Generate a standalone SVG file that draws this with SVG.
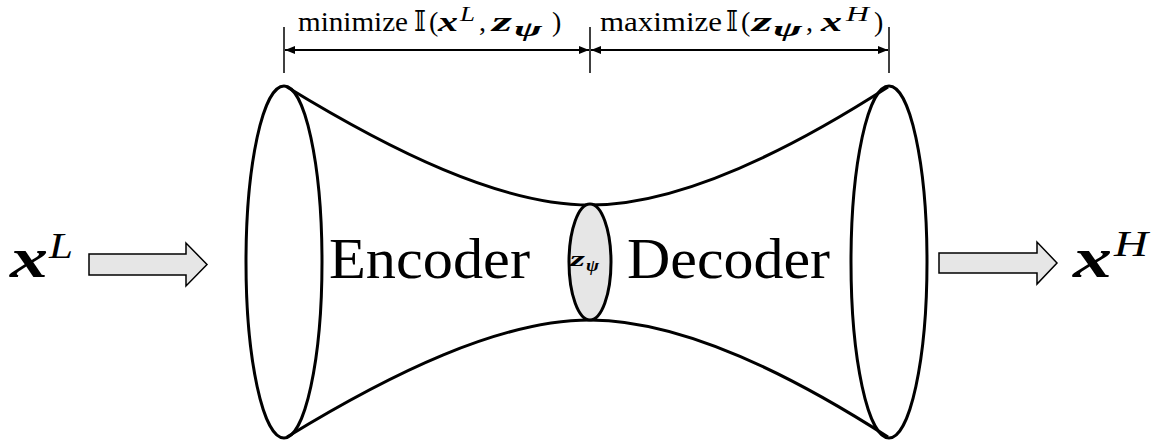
<svg xmlns="http://www.w3.org/2000/svg" width="1152" height="444" viewBox="0 0 1152 444">
<style>
.ln{fill:none;stroke:#000;stroke-width:3}
.thin{fill:none;stroke:#000;stroke-width:1.5}
.blk{fill:#e6e6e6;stroke:#000;stroke-width:1.5}
text{font-family:"Liberation Serif","Times New Roman",serif;fill:#000}
.bi{font-weight:bold;font-style:italic}
.it{font-style:italic}
.ds{font-family:"DejaVu Serif","DejaVu Sans",serif}
</style>
<defs>
<marker id="ah" viewBox="0 0 10 10" refX="10" refY="5" markerWidth="10" markerHeight="10" markerUnits="userSpaceOnUse" orient="auto-start-reverse">
<path d="M0,1 L10,5 L0,9 z" fill="#000"/>
</marker>
</defs>
<rect width="1152" height="444" fill="#fff"/>

<g id="connectors">
<line class="thin" x1="284" y1="27" x2="284" y2="73"/>
<line class="thin" x1="590" y1="27" x2="590" y2="73"/>
<line class="thin" x1="889" y1="27" x2="889" y2="73"/>
<line x1="285" y1="50" x2="589" y2="50" stroke="#000" stroke-width="2" marker-start="url(#ah)" marker-end="url(#ah)"/>
<line x1="591" y1="50" x2="888" y2="50" stroke="#000" stroke-width="2" marker-start="url(#ah)" marker-end="url(#ah)"/>
</g>

<g id="label-min" font-size="28">
<text x="298" y="31" textLength="110" lengthAdjust="spacingAndGlyphs">minimize</text>
<text class="ds" x="414" y="31" font-size="27" textLength="12" lengthAdjust="spacingAndGlyphs">𝕀</text>
<text x="429" y="31">(</text>
<text class="bi" x="438" y="31" textLength="20" lengthAdjust="spacingAndGlyphs">x</text>
<text class="it" x="460" y="21" font-size="20" textLength="15" lengthAdjust="spacingAndGlyphs">L</text>
<text x="479" y="31">,</text>
<text class="bi" x="492" y="31" textLength="20" lengthAdjust="spacingAndGlyphs">z</text>
<text class="bi" x="514" y="36" font-size="22" textLength="28" lengthAdjust="spacingAndGlyphs">ψ</text>
<text x="552" y="31">)</text>
</g>
<g id="label-max" font-size="28">
<text x="600" y="31" textLength="122" lengthAdjust="spacingAndGlyphs">maximize</text>
<text class="ds" x="726" y="31" font-size="27" textLength="12" lengthAdjust="spacingAndGlyphs">𝕀</text>
<text x="741" y="31">(</text>
<text class="bi" x="752" y="31" textLength="20" lengthAdjust="spacingAndGlyphs">z</text>
<text class="bi" x="773" y="36" font-size="22" textLength="29" lengthAdjust="spacingAndGlyphs">ψ</text>
<text x="806" y="31">,</text>
<text class="bi" x="821" y="31" textLength="21" lengthAdjust="spacingAndGlyphs">x</text>
<text class="it" x="846" y="21" font-size="20" textLength="23" lengthAdjust="spacingAndGlyphs">H</text>
<text x="874" y="31">)</text>
</g>

<g id="body">
<path class="ln" d="M287,87 C390,150 500,205 590,205 C680,205 790,150 888,87"/>
<path class="ln" d="M287,437 C390,374 500,320 590,320 C680,320 790,374 888,437"/>
</g>

<g id="encoder-ellipse">
<ellipse class="ln" cx="284" cy="262" rx="38" ry="176" fill="#fff"/>
</g>
<g id="decoder-ellipse">
<ellipse class="ln" cx="889" cy="262" rx="38" ry="176" fill="#fff"/>
</g>

<g id="z-node">
<ellipse cx="590" cy="262" rx="21" ry="58" fill="#e6e6e6" stroke="#000" stroke-width="3"/>
<text class="bi" x="570" y="266" font-size="22" textLength="15" lengthAdjust="spacingAndGlyphs">z</text>
<text class="bi" x="586" y="271" font-size="16" textLength="13" lengthAdjust="spacingAndGlyphs">ψ</text>
</g>

<g id="encoder-label">
<text x="329" y="278" font-size="57" textLength="201" lengthAdjust="spacingAndGlyphs">Encoder</text>
</g>
<g id="decoder-label">
<text x="627" y="278" font-size="57" textLength="203" lengthAdjust="spacingAndGlyphs">Decoder</text>
</g>

<g id="input">
<text class="bi" x="10" y="277" font-size="58" textLength="38" lengthAdjust="spacingAndGlyphs">x</text>
<text class="it" x="49" y="258" font-size="36" textLength="24" lengthAdjust="spacingAndGlyphs">L</text>
<path class="blk" d="M89,254 L186,254 L186,243 L207,264.5 L186,286 L186,275 L89,275 Z"/>
</g>

<g id="output">
<path class="blk" d="M939,253 L1037,253 L1037,242 L1057,263 L1037,284 L1037,273 L939,273 Z"/>
<text class="bi" x="1073" y="277" font-size="58" textLength="39" lengthAdjust="spacingAndGlyphs">x</text>
<text class="it" x="1114" y="256" font-size="36" textLength="34" lengthAdjust="spacingAndGlyphs">H</text>
</g>
</svg>
